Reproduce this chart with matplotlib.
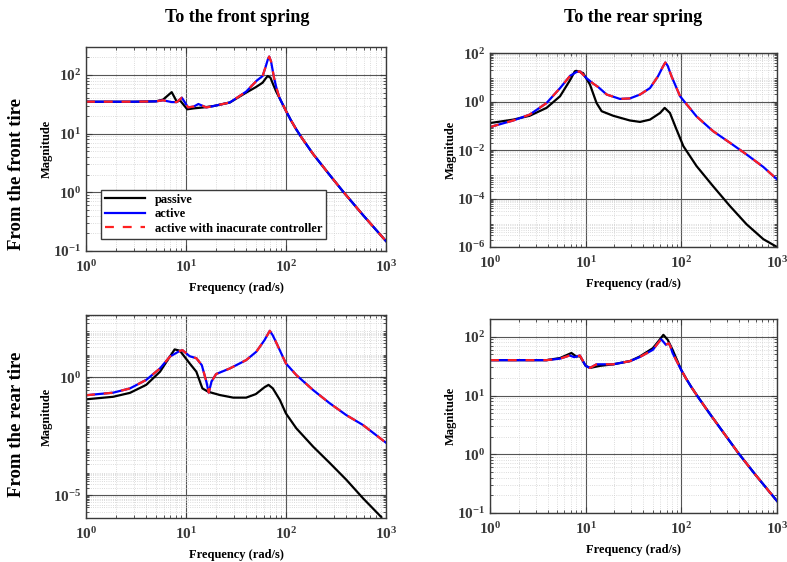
import math
import matplotlib
matplotlib.use("Agg")
import matplotlib.pyplot as plt
import matplotlib.ticker as mticker

plt.rcParams.update({
    "font.family": "Liberation Serif",
    "font.weight": "bold",
    "mathtext.fontset": "custom",
    "mathtext.rm": "Liberation Serif:bold",
    "mathtext.bf": "Liberation Serif:bold",
    "mathtext.it": "Liberation Serif:bold:italic",
    "axes.linewidth": 1.0,
})

GRAY = "#3a3a3a"

# ── data ─────────────────────────────────────────────────────────────────────
# front tire -> front spring
f11_pas = [1, 3, 5, 5.9, 7.2, 8.1, 8.7, 10.3, 12, 15, 18.8, 27.5, 40, 50, 58.5, 63,
           65.7, 70, 74.5, 80, 86, 100, 112, 127, 142, 187, 275, 375, 590, 1000]
m11_pas = [35, 35, 35.5, 38, 51, 35, 37, 26, 27, 28, 29.5, 34, 50, 62, 74, 88,
           96, 90, 69, 52, 41, 24.5, 17, 11.8, 8.8, 4.5, 1.96, 1.02, 0.41, 0.148]
f11_act = [1, 3, 5, 5.9, 7.2, 8.1, 9.1, 10.5, 12, 13.3, 16, 18.8, 27.5, 40, 51, 58.5,
           63, 66, 68, 71, 76, 80, 86, 100, 112, 127, 142, 187, 275, 375, 590, 1000]
m11_act = [35, 35, 35.5, 37, 34.5, 34.5, 41, 28, 29, 32, 28, 29.5, 34, 52, 80, 96,
           142, 185, 206, 170, 90, 62, 41, 24.5, 17, 11.8, 8.8, 4.5, 1.96, 1.02, 0.41,
           0.148]
m11_inc = m11_act

# front tire -> rear spring
f12_pas = [1, 1.75, 2.6, 3.9, 5.4, 6.9, 7.7, 8.0, 9.4, 11.1, 13.0, 14.7, 19.4, 29, 37,
           47, 60, 67, 76, 89, 105, 144, 215, 322, 480, 720, 1000]
m12_pas = [0.13, 0.18, 0.26, 0.55, 1.66, 7.9, 17.8, 18.6, 15, 5.0, 0.87, 0.40, 0.26,
           0.166, 0.145, 0.18, 0.34, 0.55, 0.34, 0.071, 0.0145, 2.2e-3, 3.2e-4,
           4.9e-5, 8.7e-6, 2.1e-6, 1.0e-6]
f12_act = [1, 1.75, 2.6, 3.9, 5.4, 6.9, 8.0, 8.7, 10.2, 12, 13.5, 16.6, 22.8, 29, 37,
           47, 57, 64, 68, 72, 79, 97, 144, 215, 322, 480, 720, 1000]
m12_act = [0.089, 0.166, 0.29, 0.87, 3.6, 11.7, 16.5, 17.7, 9.3, 5.5, 4.0, 1.95, 1.29,
           1.35, 1.95, 3.6, 11, 27, 41, 30, 11, 1.66, 0.245, 0.060, 0.020, 6.6e-3,
           2.0e-3, 6.2e-4]
m12_inc = m12_act

# rear tire -> front spring
f21_pas = [1, 1.87, 2.75, 4.0, 5.5, 6.9, 7.7, 8.7, 10.9, 12.7, 14.6, 16.7, 21.8, 29.7,
           40, 50, 61, 67, 74, 87, 100, 127, 187, 275, 402, 590, 900]
m21_pas = [0.117, 0.15, 0.22, 0.48, 1.74, 7.6, 15.4, 13.5, 3.9, 1.74, 0.34, 0.245,
           0.178, 0.138, 0.138, 0.195, 0.38, 0.48, 0.34, 0.11, 0.0295, 6.9e-3,
           1.15e-3, 2.3e-4, 4.5e-5, 7.4e-6, 1.17e-6]
f21_act = [1, 1.87, 2.75, 4.0, 5.5, 6.9, 8.4, 9.2, 10.9, 12.7, 14.4, 16, 16.9, 18, 20,
           27.5, 40, 50.6, 61, 69, 74, 80.8, 100, 127, 187, 275, 402, 590, 1000]
m21_act = [0.174, 0.224, 0.34, 0.78, 2.4, 7.6, 12.3, 14.4, 7.9, 6.5, 3.3, 0.66, 0.224,
           0.66, 1.38, 2.4, 5.4, 12.3, 38, 95, 60, 27.5, 3.9, 1.26, 0.29, 0.079,
           0.025, 9.5e-3, 1.7e-3]
m21_inc = m21_act

# rear tire -> rear spring
f22_pas = [1, 2, 3.9, 5.4, 7.1, 8.0, 8.7, 10, 11.1, 14.1, 19.4, 29, 36.6, 50.4, 58,
           64.9, 72, 81, 100, 112, 127, 151, 200, 275, 394, 600, 1000]
m22_pas = [40, 40, 40, 43.5, 53, 46, 47, 32, 29.5, 32, 34, 38.5, 46, 64, 85,
           108, 89, 60, 27, 19.5, 14, 9.2, 4.8, 2.35, 1.05, 0.44, 0.16]
f22_act = [1, 2, 3.9, 5.4, 6.8, 7.6, 8.7, 10, 11.1, 13, 19.4, 29, 36.6, 50.4, 56,
           61.4, 65, 69, 73.8, 77, 81, 100, 112, 127, 151, 200, 275, 394, 600, 1000]
m22_act = [40, 40, 40, 42.5, 48, 45, 48, 32, 29.5, 34, 34, 38.5, 45, 60, 75,
           91, 82, 73, 78, 68, 53, 27, 19.5, 14, 9.2, 4.8, 2.35, 1.05, 0.44, 0.16]
m22_inc = m22_act

panels = [
    (f11_pas, m11_pas, f11_act, m11_act, m11_inc, (0.1, 300), [0.1, 1, 10, 100]),
    (f12_pas, m12_pas, f12_act, m12_act, m12_inc, (1e-6, 100), [1e-6, 1e-4, 1e-2, 1, 100]),
    (f21_pas, m21_pas, f21_act, m21_act, m21_inc, (1.07e-6, 440), [1e-5, 1]),
    (f22_pas, m22_pas, f22_act, m22_act, m22_inc, (0.1, 200), [0.1, 1, 10, 100]),
]

positions = [
    [0.1093, 0.5534, 0.381, 0.363],
    [0.6226, 0.5605, 0.3647, 0.345],
    [0.1093, 0.0783, 0.381, 0.361],
    [0.6226, 0.0872, 0.3647, 0.345],
]

fmt = mticker.FuncFormatter(lambda v, p: r"$\mathbf{10^{%d}}$" % round(math.log10(v)))

fig = plt.figure(figsize=(7.87, 5.62), dpi=100)
axes = []
for pos, (fp, mp, fa, ma, mi, ylim, yticks) in zip(positions, panels):
    ax = fig.add_axes(pos)
    ax.plot(fp, mp, color="black", lw=1.6, label="passive")
    ax.plot(fa, ma, color="#0000ff", lw=1.6, label="active")
    ax.plot(fa, mi, color="#ff2020", lw=1.6, ls=(0, (4, 4)),
            label="active with inacurate controller")
    ax.set_xscale("log")
    ax.set_yscale("log")
    ax.set_xlim(1, 1000)
    ax.set_ylim(*ylim)
    ax.set_xticks([1, 10, 100, 1000])
    ax.set_yticks(yticks)
    ax.xaxis.set_major_formatter(fmt)
    ax.yaxis.set_major_formatter(fmt)
    ax.xaxis.set_minor_locator(mticker.LogLocator(base=10, subs=range(2, 10), numticks=20))
    ax.yaxis.set_minor_locator(mticker.LogLocator(base=10, subs=range(2, 10), numticks=20))
    ax.xaxis.set_minor_formatter(mticker.NullFormatter())
    ax.yaxis.set_minor_formatter(mticker.NullFormatter())
    ax.grid(True, which="major", color="#555555", lw=0.8)
    ax.grid(True, which="minor", color="#d0d0d0", lw=0.6, ls=":")
    ax.tick_params(which="both", direction="in", top=True, right=True,
                   colors=GRAY, labelsize=11)
    ax.tick_params(axis="x", which="major", pad=6)
    ax.tick_params(which="major", length=4)
    ax.tick_params(which="minor", length=2)
    for s in ax.spines.values():
        s.set_color(GRAY)
    ax.set_xlabel("Frequency (rad/s)", fontsize=9, fontweight="bold", labelpad=5)
    ax.set_ylabel("Magnitude", fontsize=9, fontweight="bold", labelpad=0)
    axes.append(ax)

leg = axes[0].legend(loc="lower left", bbox_to_anchor=(0.03, 0.03), fontsize=9,
                     handlelength=3.2, fancybox=False, framealpha=1,
                     edgecolor=GRAY, borderpad=0.3, labelspacing=0.2)
for t in leg.get_texts():
    t.set_fontweight("bold")

fig.text(0.301, 0.968, "To the front spring", ha="center", va="center",
         fontsize=13, fontweight="bold")
fig.text(0.804, 0.968, "To the rear spring", ha="center", va="center",
         fontsize=13, fontweight="bold")
fig.text(0.021, 0.69, "From the front tire", ha="center", va="center",
         rotation=90, fontsize=13.5, fontweight="bold")
fig.text(0.021, 0.245, "From the rear tire", ha="center", va="center",
         rotation=90, fontsize=13.5, fontweight="bold")

fig.savefig("out.png", dpi=100)
